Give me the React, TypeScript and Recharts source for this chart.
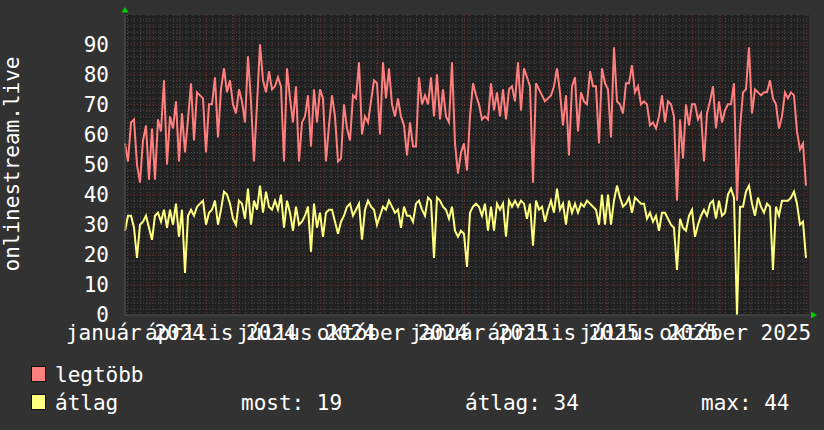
import { LineChart, Line, XAxis, YAxis, CartesianGrid } from "recharts"

// daily max / average viewers, sampled every ~3.2 days starting 2024-01-05
const legtobb = [
  57, 51, 64, 65, 50, 44, 58, 63, 45, 62, 45, 65, 61, 78, 50, 66, 62, 71, 51, 67, 54, 65, 77, 58, 74, 73, 72, 54, 70, 70, 79, 59, 75, 82, 74, 78, 70,
  67, 75, 71, 64, 86, 71, 51, 70, 90, 78, 74, 81, 75, 76, 79, 76, 51, 82, 72, 64, 76, 51, 64, 66, 73, 56, 75, 64, 75, 72, 51, 63, 73, 66, 51, 52, 70, 62,
  58, 73, 72, 84, 60, 66, 64, 71, 78, 77, 60, 84, 72, 82, 70, 66, 72, 66, 63, 53, 64, 56, 56, 79, 70, 73, 70, 79, 66, 80, 65, 75, 66, 64, 84, 57, 47, 54, 57,
  48, 66, 77, 73, 70, 65, 66, 65, 77, 68, 74, 66, 75, 65, 75, 76, 71, 84, 68, 82, 79, 76, 44, 77, 75, 73, 71, 72, 73, 76, 82, 74, 63, 73, 53, 76, 79, 61,
  74, 71, 70, 81, 76, 76, 57, 82, 77, 75, 59, 89, 71, 70, 67, 77, 77, 83, 74, 76, 70, 71, 70, 63, 64, 62, 66, 73, 64, 71, 70, 66, 38, 65, 52, 70, 63, 70,
  70, 65, 67, 51, 67, 71, 76, 62, 71, 64, 68, 70, 70, 77, 38, 62, 74, 75, 89, 67, 75, 74, 73, 74, 74, 78, 72, 70, 62, 66, 74, 72, 74, 73, 61, 55, 57, 43,
]

const atlag = [
  28, 33, 33, 29, 19, 30, 31, 33, 29, 25, 33, 34, 31, 35, 29, 35, 30, 37, 26, 35, 14, 33, 35, 33, 36, 37, 38, 30, 34, 35, 38, 30, 35, 41, 40, 37, 32,
  30, 38, 37, 32, 42, 30, 38, 35, 43, 34, 41, 36, 35, 38, 35, 40, 29, 38, 34, 28, 36, 30, 31, 33, 36, 21, 37, 29, 34, 26, 34, 35, 35, 31, 27, 31, 33, 36,
  37, 33, 35, 37, 25, 35, 38, 36, 35, 30, 33, 36, 35, 38, 36, 34, 35, 29, 36, 33, 33, 31, 37, 38, 35, 33, 39, 38, 19, 39, 38, 36, 35, 32, 36, 28, 26, 28, 27,
  16, 34, 36, 37, 36, 33, 37, 28, 36, 28, 37, 35, 37, 26, 38, 36, 38, 36, 38, 37, 32, 37, 23, 38, 35, 36, 31, 35, 38, 34, 42, 35, 37, 30, 38, 34, 37, 34,
  37, 36, 38, 37, 36, 35, 30, 40, 30, 40, 30, 38, 43, 39, 36, 37, 39, 34, 39, 38, 37, 37, 32, 34, 31, 33, 28, 34, 34, 32, 30, 29, 15, 32, 29, 28, 33, 35,
  26, 30, 33, 35, 33, 37, 38, 32, 38, 33, 34, 40, 42, 39, 0, 36, 36, 41, 43, 37, 33, 39, 36, 34, 37, 36, 15, 36, 33, 38, 38, 38, 39, 41, 37, 30, 31, 19,
]

const honapok = ["január", "február", "március", "április", "május", "június", "július", "augusztus", "szeptember", "október", "november", "december"]
const labelMonths: [number, number][] = [
  [2024, 0], [2024, 3], [2024, 6], [2024, 9],
  [2025, 0], [2025, 3], [2025, 6], [2025, 9],
]
const yTicks = [0, 10, 20, 30, 40, 50, 60, 70, 80, 90]

const FIRST_DAY = 4.4
const STEP_DAYS = 3.196
const X_DOMAIN: [number, number] = [4.4, 733.1]
const Y_MAX = 99.7

const FONT = "'DejaVu Sans Mono', monospace"

const dayOf = (y: number, m: number) => (Date.UTC(y, m, 1) - Date.UTC(2024, 0, 1)) / 86400000

const data = legtobb.map((v, i) => ({
  day: FIRST_DAY + i * STEP_DAYS,
  legtobb: v,
  atlag: atlag[i],
}))

// label sits in the middle of its month
const labelTicks = labelMonths.map(([y, m]) => dayOf(y, m) + 15.5)
const labelText = new Map(labelMonths.map(([y, m], i) => [labelTicks[i], `${honapok[m]} ${y}`]))

const monthLines: number[] = []
for (let k = 1; k <= 24; k++) monthLines.push(dayOf(2024, k))
const weekLines: number[] = []
for (let d = 7; d < X_DOMAIN[1]; d += 7) weekLines.push(d)

const minorY: number[] = []
for (let v = 2; v < Y_MAX; v += 2) if (v % 10 !== 0) minorY.push(v)
const majorY = yTicks.filter((v) => v > 0)

export default function App() {
  return (
    <div style={{ position: "absolute", left: 0, top: 0, width: 824, height: 430, background: "#323232" }}>
      <LineChart width={824} height={430} data={data} margin={{ top: 15, right: 15, bottom: 85, left: 65 }}>
        <CartesianGrid
          fill="#212121"
          stroke="#4a4a4a"
          strokeDasharray="1 2"
          horizontalValues={minorY}
          verticalValues={weekLines}
        />
        <CartesianGrid
          fill="none"
          stroke="#7a2a2a"
          strokeDasharray="1 2"
          horizontalValues={majorY}
          verticalValues={monthLines}
        />
        <XAxis
          type="number"
          dataKey="day"
          domain={X_DOMAIN}
          ticks={labelTicks}
          interval={0}
          height={30}
          tickFormatter={(v) => labelText.get(v) ?? ""}
          tickLine={false}
          tickSize={0}
          tickMargin={10}
          axisLine={{ stroke: "#555" }}
          tick={{ fill: "#ffffff", fontSize: 21, fontFamily: FONT }}
        />
        <YAxis
          type="number"
          domain={[0, Y_MAX]}
          ticks={yTicks}
          interval={0}
          width={60}
          tickLine={false}
          tickSize={0}
          tickMargin={16}
          axisLine={{ stroke: "#555" }}
          tick={{ fill: "#ffffff", fontSize: 21, fontFamily: FONT }}
        />
        <Line type="linear" dataKey="legtobb" stroke="#ff7f7f" strokeWidth={2} dot={false} isAnimationActive={false} />
        <Line type="linear" dataKey="atlag" stroke="#ffff7f" strokeWidth={2} dot={false} isAnimationActive={false} />
      </LineChart>

      <svg width={824} height={430} style={{ position: "absolute", left: 0, top: 0, pointerEvents: "none" }}>
        <polygon points="121.5,12.5 128.5,12.5 125,7" fill="#00d000" />
        <polygon points="811,311.5 811,318.5 817,315" fill="#00d000" />
        <text
          x={18.5}
          y={164}
          transform="rotate(-90 18.5 164)"
          textAnchor="middle"
          fill="#ffffff"
          fontSize={21}
          fontFamily={FONT}
        >
          onlinestream.live
        </text>

        <rect x={31.5} y={366.5} width={14} height={15} fill="#ff7f7f" stroke="#111" />
        <text x={55} y={382} fill="#ffffff" fontSize={21} fontFamily={FONT}>legtöbb</text>
        <rect x={31.5} y={394.5} width={14} height={15} fill="#ffff7f" stroke="#111" />
        <text x={55} y={410} fill="#ffffff" fontSize={21} fontFamily={FONT}>átlag</text>
        <text x={241} y={410} fill="#ffffff" fontSize={21} fontFamily={FONT}>most: 19</text>
        <text x={465} y={410} fill="#ffffff" fontSize={21} fontFamily={FONT}>átlag: 34</text>
        <text x={701} y={410} fill="#ffffff" fontSize={21} fontFamily={FONT}>max: 44</text>
      </svg>
    </div>
  )
}
